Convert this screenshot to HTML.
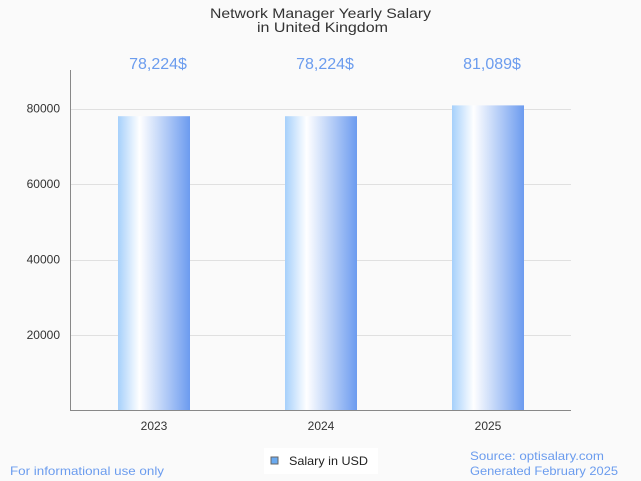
<!DOCTYPE html>
<html><head><meta charset="utf-8"><style>
body{margin:0;background:#fafafa;font-family:"Liberation Sans",sans-serif;}
svg{display:block}
</style></head><body>
<svg width="641" height="481" xmlns="http://www.w3.org/2000/svg">
<defs><linearGradient id="g" x1="0" x2="1" y1="0" y2="0">
<stop offset="0" stop-color="#a6d0fb"/><stop offset="0.3" stop-color="#ffffff"/><stop offset="1" stop-color="#6c9bef"/></linearGradient></defs>
<rect width="641" height="481" fill="#fafafa"/>
<text x="210" y="18" font-size="14" fill="#333" textLength="221" lengthAdjust="spacingAndGlyphs">Network Manager Yearly Salary</text>
<text x="257" y="32" font-size="14" fill="#333" textLength="131" lengthAdjust="spacingAndGlyphs">in United Kingdom</text>
<g id="grid"></g><g id="bars"></g>
<line x1="70.5" y1="70" x2="70.5" y2="411" stroke="#888"/>
<line x1="70" y1="410.5" x2="571" y2="410.5" stroke="#888"/>
<rect x="264" y="448" width="114" height="26" fill="#fff"/>
<rect x="271" y="457" width="7" height="7" fill="#6aaaf0" stroke="#666"/>
<text x="289" y="465" font-size="12" fill="#222" textLength="79" lengthAdjust="spacingAndGlyphs">Salary in USD</text>
<text x="10" y="475" font-size="12" fill="#6b9cee" textLength="154" lengthAdjust="spacingAndGlyphs">For informational use only</text>
<text x="470" y="460" font-size="12" fill="#6b9cee" textLength="134" lengthAdjust="spacingAndGlyphs">Source: optisalary.com</text>
<text x="470" y="475" font-size="12" fill="#6b9cee" textLength="148" lengthAdjust="spacingAndGlyphs">Generated February 2025</text>
</svg>
<script>
const categories=["2023","2024","2025"];
const values=[78224,78224,81089];
const valueLabels=["78,224$","78,224$","81,089$"];
const yTicks=[20000,40000,60000,80000];
const NS="http://www.w3.org/2000/svg";
const y=v=>410.5-v*75.5/20000;
const xc=i=>154+i*167;
const grid=document.getElementById('grid'),bars=document.getElementById('bars');
function mk(tag,attrs,parent,txt){const e=document.createElementNS(NS,tag);for(const k in attrs)e.setAttribute(k,attrs[k]);if(txt)e.textContent=txt;parent.appendChild(e);return e;}
yTicks.forEach(t=>{
 const l=mk('line',{x1:70,x2:571,y1:Math.round(y(t))+0.5,y2:Math.round(y(t))+0.5,stroke:'#e0e0e0'},grid);
 
 
 const tx=mk('text',{x:60,y:y(t)+4,'font-size':12,fill:'#333','text-anchor':'end'},grid,String(t));
 
 
});
categories.forEach((c,i)=>{
 const r=mk('rect',{x:xc(i)-36,y:y(values[i])+1,width:72,height:410.5-y(values[i])-1,fill:'url(#g)'},bars);
 
 
 const vl=mk('text',{x:xc(i)+4,y:69,'font-size':16,fill:'#6b9cee','text-anchor':'middle'},bars,valueLabels[i]);
 
 
 const xl=mk('text',{x:xc(i),y:430,'font-size':12,fill:'#333','text-anchor':'middle'},bars,c);
 
 
});
</script>
</body></html>
